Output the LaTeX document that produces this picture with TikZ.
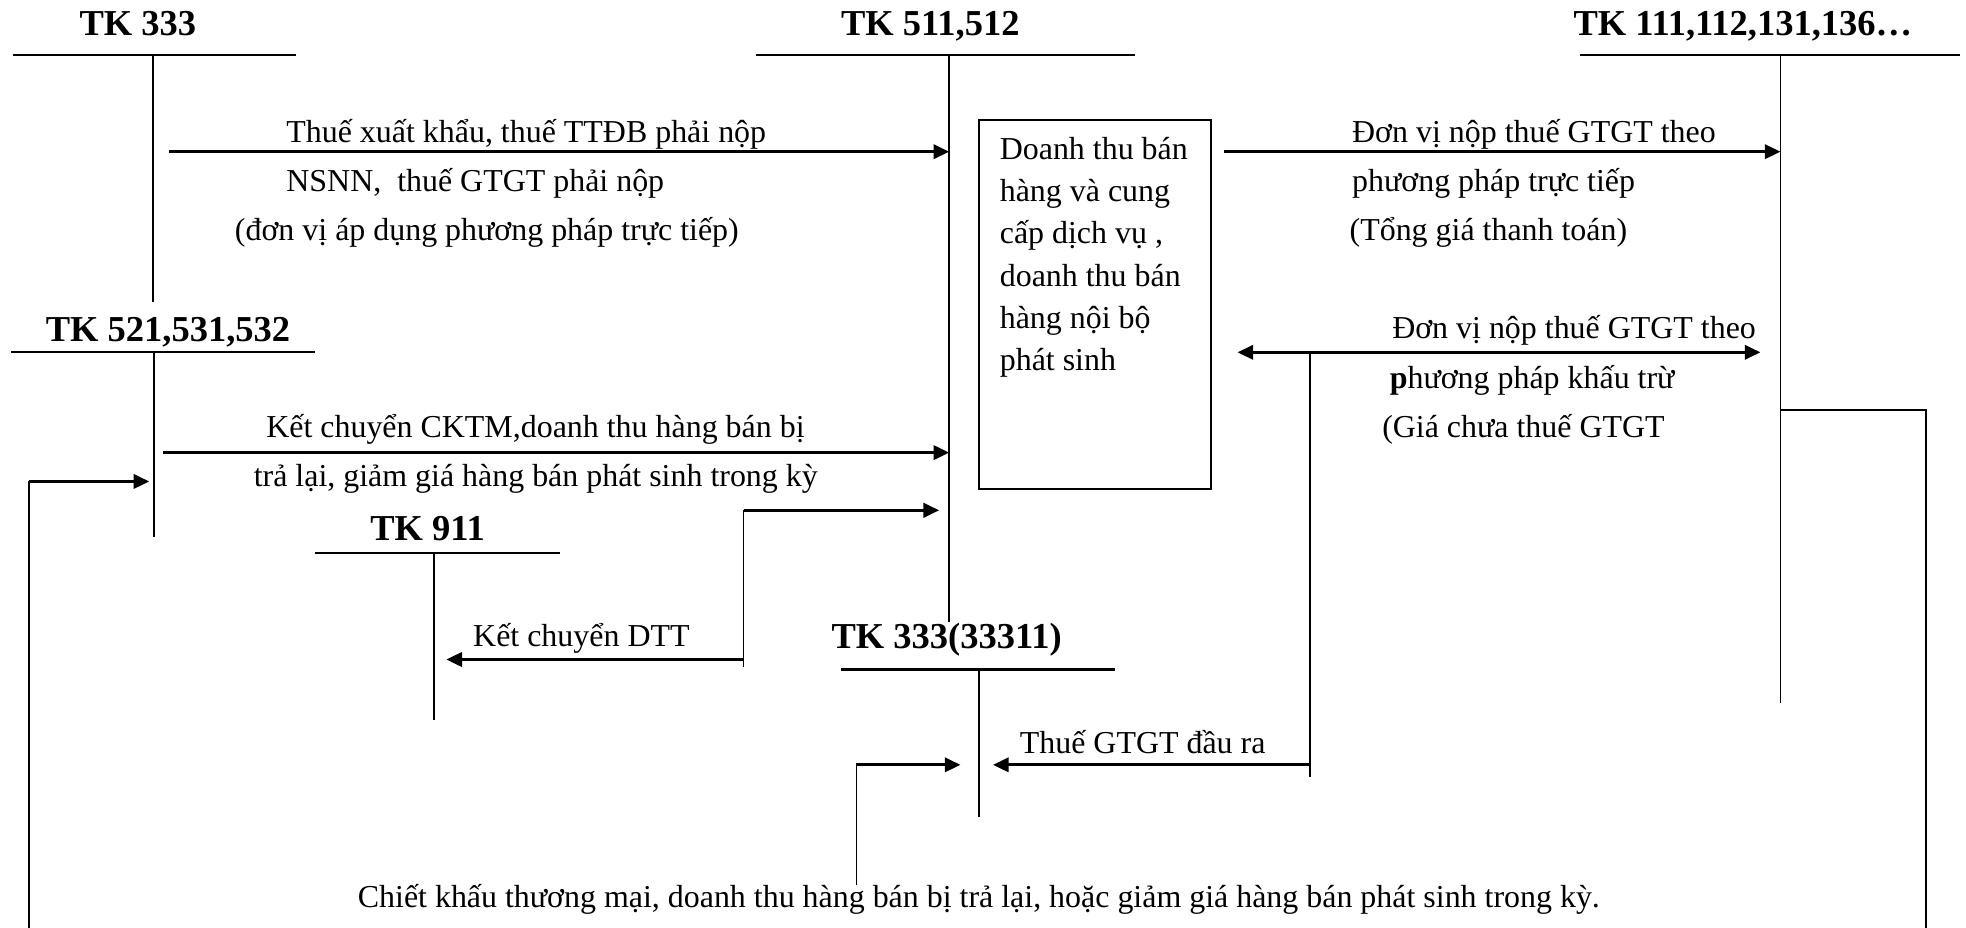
\documentclass[tikz,border=0pt]{standalone}
\usepackage{fontspec}
\setmainfont{Liberation Serif}
\usetikzlibrary{arrows.meta, positioning, calc}

\begin{document}
\begin{tikzpicture}[
    x=0.0169cm, y=-0.0169cm,
    title/.style={font=\fontsize{14}{16}\selectfont\bfseries, inner sep=0pt, anchor=base},
    lbl/.style={font=\fontsize{12.25}{14}\selectfont, inner sep=0pt, anchor=base west},
    boxtext/.style={font=\fontsize{12.25}{16.2}\selectfont, align=left, inner sep=0pt, anchor=north west},
    revbox/.style={rectangle, draw, line width=0.9pt, minimum width=3.13cm, minimum height=4.97cm, inner sep=0pt, anchor=north west},
    bar/.style={line width=0.9pt},
    stem/.style={line width=0.6pt},
    link/.style={line width=0.6pt},
    arrow/.style={-{Triangle[length=6pt,width=5.5pt]}, line width=1.1pt},
    twoway/.style={{Triangle[length=6pt,width=5.5pt]}-{Triangle[length=6pt,width=5.5pt]}, line width=1.1pt}
]
\useasboundingbox (0,0) rectangle (1568,740);

\node[title] (t333) at (110,28) {TK 333};
\node[title] (t511) at (742,28) {TK 511,512};
\node[title] (t111) at (1390,28) {TK 111,112,131,136…};
\node[title] (t521) at (134,272) {TK 521,531,532};
\node[title] (t911) at (341,431) {TK 911};
\node[title] (t3331) at (755,517) {TK 333(33311)};

\draw[bar] (10,44) -- (236,44);
\draw[stem] (122,44) -- (122,241);
\draw[bar] (603,44) -- (905,44);
\draw[stem] (757,44) -- (757,496);
\draw[bar] (1260,44) -- (1563,44);
\draw[stem] (1420,44) -- (1420,561);
\draw[bar] (9,281) -- (251,281);
\draw[stem] (123,281) -- (123,428);
\draw[bar] (251,441) -- (447,441);
\draw[stem] (346,441) -- (346,574);
\draw[bar] (671,534) -- (889,534);
\draw[stem] (781,534) -- (781,652);

\node[revbox] (rev) at (780,95) {};
\node[boxtext] (revtxt) at (797,109) {Doanh thu bán\\hàng và cung\\cấp dịch vụ ,\\doanh thu bán\\hàng nội bộ\\phát sinh};

\coordinate (in333) at (135,121);
\coordinate (to511a) at (757,121);
\coordinate (out511) at (976,121);
\coordinate (to111a) at (1420,121);
\coordinate (back511) at (987,281);
\coordinate (to111b) at (1404,281);
\coordinate (split) at (1045,281);
\coordinate (splitend) at (1045,620);
\coordinate (vatfrom) at (1045,610);
\coordinate (to3331a) at (792,610);
\coordinate (in521) at (130,361);
\coordinate (to511b) at (757,361);
\coordinate (loopl) at (23,740);
\coordinate (loopltop) at (23,384);
\coordinate (to521) at (119,384);
\coordinate (dtttop) at (593,407);
\coordinate (dttbot) at (593,532);
\coordinate (dttfrom) at (593,526);
\coordinate (to511c) at (749,407);
\coordinate (to911) at (356,526);
\coordinate (ckfoot) at (683,706);
\coordinate (ckturn) at (683,610);
\coordinate (to3331b) at (766,610);
\coordinate (from111) at (1420,327);
\coordinate (loopr) at (1536,740);

\draw[arrow] (in333) -- (to511a);
\draw[arrow] (out511) -- (to111a);
\draw[twoway] (back511) -- (to111b);
\draw[link] (split) -- (splitend);
\draw[arrow] (vatfrom) -- (to3331a);
\draw[arrow] (in521) -- (to511b);
\draw[link] (loopl) -- (loopltop);
\draw[arrow] (loopltop) -- (to521);
\draw[link] (dtttop) -- (dttbot);
\draw[arrow] (dtttop) -- (to511c);
\draw[arrow] (dttfrom) -- (to911);
\draw[link] (ckfoot) -- (ckturn);
\draw[arrow] (ckturn) -- (to3331b);
\draw[link] (from111) -| (loopr);

\node[lbl] (l1a) at (228,114) {Thuế xuất khẩu, thuế TTĐB phải nộp};
\node[lbl] (l1b) at (228,153) {NSNN,\ \ thuế GTGT phải nộp};
\node[lbl] (l1c) at (187,192) {(đơn vị áp dụng phương pháp trực tiếp)};
\node[lbl] (l2a) at (1078,114) {Đơn vị nộp thuế GTGT theo};
\node[lbl] (l2b) at (1078,153) {phương pháp trực tiếp};
\node[lbl] (l2c) at (1076,192) {(Tổng giá thanh toán)};
\node[lbl] (l3a) at (1110,270) {Đơn vị nộp thuế GTGT theo};
\node[lbl] (l3b) at (1108,310) {\textbf{p}hương pháp khấu trừ};
\node[lbl] (l3c) at (1102,349) {(Giá chưa thuế GTGT};
\node[lbl] (l4a) at (212,349) {Kết chuyển CKTM,doanh thu hàng bán bị};
\node[lbl] (l4b) at (202,388) {trả lại, giảm giá hàng bán phát sinh trong kỳ};
\node[lbl] (l5) at (377,516) {Kết chuyển DTT};
\node[lbl] (l6) at (813,601) {Thuế GTGT đầu ra};
\node[lbl] (l7) at (285,724) {Chiết khấu thương mại, doanh thu hàng bán bị trả lại, hoặc giảm giá hàng bán phát sinh trong kỳ.};

\end{tikzpicture}
\end{document}
